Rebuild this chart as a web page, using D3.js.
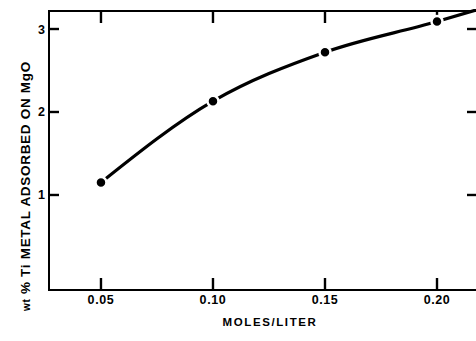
<!DOCTYPE html>
<html>
<head>
<meta charset="utf-8">
<script src="https://cdn.jsdelivr.net/npm/d3@7"></script>
<style>
  body { margin: 0; background: #fff; }
  svg { display: block; font-family: "Liberation Sans", Arial, sans-serif; font-weight: bold; }
</style>
</head>
<body>
<svg id="chart" width="476" height="341"></svg>
<script>
// values
const concentration = [0.05, 0.10, 0.15, 0.20]
const tiAdsorbed = [1.15, 2.13, 2.72, 3.09]
// the drawn curve runs on past the last point to the frame edge
const curveX = [0.05, 0.10, 0.15, 0.20, 0.22]
const curveY = [1.15, 2.13, 2.72, 3.09, 3.25]
const xTicks = [0.05, 0.10, 0.15, 0.20]
const yTicks = [1, 2, 3]

const svg = d3.select("#chart")
const mLeft = 49, mRight = 478, mTop = 11, mBottom = 290

const x = d3.scaleLinear().domain([0.0268, 0.2183]).range([mLeft, mRight])
const y = d3.scaleLinear().domain([-0.145, 3.217]).range([mBottom, mTop])

svg.append("defs").append("clipPath").attr("id", "clip")
  .append("rect").attr("x", mLeft).attr("y", mTop - 2).attr("width", mRight - mLeft).attr("height", mBottom - mTop + 2)

// frame
svg.append("rect")
  .attr("x", mLeft).attr("y", mTop)
  .attr("width", mRight - mLeft).attr("height", mBottom - mTop)
  .attr("fill", "none").attr("stroke", "#000").attr("stroke-width", 2)

// inward ticks on all four sides
const tickLine = (cls, data, x1, x2, y1, y2) => svg.selectAll("line." + cls)
  .data(data).join("line").attr("class", cls)
  .attr("x1", x1).attr("x2", x2).attr("y1", y1).attr("y2", y2)
  .attr("stroke", "#000").attr("stroke-width", 2.4)

tickLine("xb", xTicks, d => x(d), d => x(d), mBottom, mBottom - 12)
tickLine("xt", xTicks, d => x(d), d => x(d), mTop, mTop + 12)
tickLine("yl", yTicks, mLeft, mLeft + 10, d => y(d), d => y(d))
tickLine("yr", yTicks, mRight, mRight - 11, d => y(d), d => y(d))

// tick labels
svg.append("g").selectAll("text").data(xTicks).join("text")
  .attr("x", d => x(d)).attr("y", mBottom + 14)
  .attr("text-anchor", "middle").attr("font-size", 12.5).attr("letter-spacing", 0.6)
  .text(d3.format(".2f"))
svg.append("g").selectAll("text").data(yTicks).join("text")
  .attr("x", mLeft - 4).attr("y", d => y(d) + 4.5)
  .attr("text-anchor", "end").attr("font-size", 12.5)
  .text(d3.format("d"))

// curve
const line = d3.line().x(d => x(d[0])).y(d => y(d[1])).curve(d3.curveMonotoneX)
svg.append("path")
  .datum(d3.zip(curveX, curveY))
  .attr("clip-path", "url(#clip)")
  .attr("d", line)
  .attr("fill", "none").attr("stroke", "#000").attr("stroke-width", 3.2)

// points with a white halo
svg.append("g").selectAll("circle")
  .data(d3.zip(concentration, tiAdsorbed))
  .join("circle")
  .attr("cx", d => x(d[0])).attr("cy", d => y(d[1]))
  .attr("r", 5.5)
  .attr("fill", "#000").attr("stroke", "#fff").attr("stroke-width", 2.5)

// axis titles
svg.append("text")
  .attr("x", 270).attr("y", 326)
  .attr("text-anchor", "middle")
  .attr("font-size", 11.5).attr("letter-spacing", 1.6)
  .text("MOLES/LITER")

const yt = svg.append("text")
  .attr("transform", `translate(30,311) rotate(-90)`)
  .attr("text-anchor", "start")
  .attr("font-size", 13.5).attr("letter-spacing", 0.7)
yt.append("tspan").attr("font-size", 10).text("wt")
yt.append("tspan").text(" % Ti METAL ADSORBED ON MgO")
</script>
</body>
</html>
